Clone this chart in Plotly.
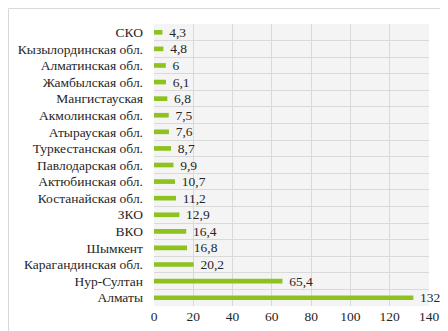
import plotly.graph_objects as go

categories = ["СКО", "Кызылординская обл.", "Алматинская обл.", "Жамбылская обл.",
              "Мангистауская", "Акмолинская обл.", "Атырауская обл.", "Туркестанская обл.",
              "Павлодарская обл.", "Актюбинская обл.", "Костанайская обл.", "ЗКО", "ВКО",
              "Шымкент", "Карагандинская обл.", "Нур-Султан", "Алматы"]
values = [4.3, 4.8, 6, 6.1, 6.8, 7.5, 7.6, 8.7, 9.9, 10.7, 11.2, 12.9, 16.4, 16.8, 20.2, 65.4, 132]
value_labels = [("%g" % v).replace(".", ",") for v in values]
x_ticks = [0, 20, 40, 60, 80, 100, 120, 140]

font_family = "'Liberation Serif', 'Times New Roman', serif"
fs = 13.5

fig = go.Figure(go.Bar(
    x=values, y=categories, orientation="h",
    marker=dict(color="#8dc21f", line=dict(width=0)),
    text=value_labels, texttemplate="  %{text}", textposition="outside",
    cliponaxis=False, constraintext="none",
    textfont=dict(family=font_family, size=fs, color="#262626"),
))

W, H = 448, 331
ml, mr, mt, mb = 146, 27, 16, 33
pw, ph = W - ml - mr, H - mt - mb

fig.update_layout(
    width=W, height=H,
    margin=dict(l=ml, r=mr, t=mt, b=mb, autoexpand=False),
    paper_bgcolor="white", plot_bgcolor="#f4f4f4",
    bargap=0.72, showlegend=False,
    font=dict(family=font_family, size=fs, color="#262626"),
    xaxis=dict(range=[0, 140], tickvals=x_ticks, showgrid=True, gridcolor="#d9d9d9",
               gridwidth=1, zeroline=False, showline=False, ticks="", automargin=False,
               tickfont=dict(family=font_family, size=fs, color="#262626")),
    yaxis=dict(autorange="reversed", tickmode="array", tickvals=categories,
               tickson="boundaries", showgrid=True, gridcolor="#d9d9d9", automargin=False,
               gridwidth=1, ticks="", showline=False, ticklabelstandoff=10,
               tickfont=dict(family=font_family, size=fs, color="#262626")),
    shapes=[dict(type="rect", xref="paper", yref="paper",
                 x0=(0.5 - ml) / pw, x1=(W - 0.5 - ml) / pw,
                 y0=-(mb - 0.5) / ph, y1=(ph + mt - 0.5) / ph,
                 line=dict(color="#d9d9d9", width=1), layer="below")],
)

fig.write_html("out.html")
